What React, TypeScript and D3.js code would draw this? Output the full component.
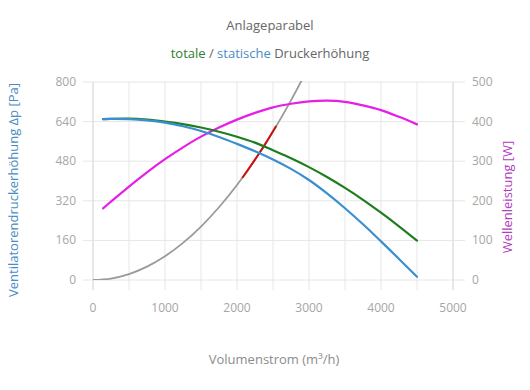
import React from "react";
import * as d3 from "d3";

const flowQ = [140, 250, 500, 750, 1000, 1250, 1500, 1750, 2000, 2250, 2500, 2750, 3000, 3250, 3500, 3750, 4000, 4250, 4500];
const staticP = [650, 651, 650, 645, 636, 621, 602, 578, 550, 520, 487, 449, 404, 350, 290, 225, 156, 85, 13];
const totalP = [650, 651, 652, 648, 640, 630, 616, 599, 579, 555, 524, 492, 456, 416, 372, 324, 272, 217, 159];
const powerW = [181, 198, 236, 272, 305, 335, 362, 385, 405, 422, 436, 445, 451, 453, 450, 441, 429, 412, 393];

const parabQ = [0, 250, 500, 750, 1000, 1250, 1500, 1750, 2000, 2250, 2500, 2750, 2900];
const parabP = [0, 6, 24, 54, 96, 150, 216, 294, 384, 486, 600, 726, 808];

const redQ = [2080, 2200, 2300, 2400, 2540];
const redP = [415, 465, 508, 553, 620];

const xTicks = [0, 500, 1000, 1500, 2000, 2500, 3000, 3500, 4000, 4500, 5000];
const xLabels = [0, 1000, 2000, 3000, 4000, 5000];
const leftTicks = [0, 160, 320, 480, 640, 800];
const rightTicks = [0, 100, 200, 300, 400, 500];

const FONT = "'Open Sans', 'Noto Sans', sans-serif";

export default function App() {
  const W = 530, H = 390;
  const left = 93, right = 453, top = 82, bottom = 280;
  const x = d3.scaleLinear().domain([0, 5000]).range([left, right]);
  const yL = d3.scaleLinear().domain([0, 800]).range([bottom, top]);
  const yR = d3.scaleLinear().domain([0, 500]).range([bottom, top]);

  const curve = d3.curveCatmullRom.alpha(0.5);
  const lineL = (qs: number[], ps: number[]) =>
    d3.line<number>().x((_, i) => x(qs[i])).y((d) => yL(d)).curve(curve)(ps) || "";
  const lineR = (qs: number[], ps: number[]) =>
    d3.line<number>().x((_, i) => x(qs[i])).y((d) => yR(d)).curve(curve)(ps) || "";

  const grid = "#e6e6e6";
  const tickCol = "#a6a6a6";

  return (
    <svg width={W} height={H} style={{ position: "absolute", left: 0, top: 0, fontFamily: FONT }}>
      <rect width={W} height={H} fill="#fff" />
      <defs>
        <clipPath id="plot">
          <rect x={left} y={top - 1} width={right - left} height={bottom - top + 1} />
        </clipPath>
      </defs>
      <text x={270} y={30} textAnchor="middle" fontSize={13} fill="#666">Anlageparabel</text>
      <text x={270} y={58} textAnchor="middle" fontSize={13} fill="#666">
        <tspan fill="#2f7d2f">totale</tspan>
        <tspan> / </tspan>
        <tspan fill="#4a8cc4">statische</tspan>
        <tspan> Druckerhöhung</tspan>
      </text>

      {xTicks.map((t) => (
        <line key={"vx" + t} x1={x(t)} x2={x(t)} y1={top} y2={bottom + 10} stroke={grid} strokeWidth={1} />
      ))}
      {leftTicks.map((t) => (
        <line key={"hy" + t} x1={left - 10} x2={right + 12} y1={yL(t)} y2={yL(t)} stroke={grid} strokeWidth={1} />
      ))}
      <line x1={left} x2={left} y1={top} y2={bottom + 10} stroke="#dcdcdc" />
      <line x1={right} x2={right} y1={top} y2={bottom + 10} stroke="#dcdcdc" />

      {leftTicks.map((t) => (
        <text key={"ly" + t} x={76} y={yL(t) + 4} textAnchor="end" fontSize={12} fill={tickCol}>{t}</text>
      ))}
      {rightTicks.map((t) => (
        <text key={"ry" + t} x={472} y={yR(t) + 4} textAnchor="start" fontSize={12} fill={tickCol}>{t}</text>
      ))}
      {xLabels.map((t) => (
        <text key={"lx" + t} x={x(t)} y={312} textAnchor="middle" fontSize={12} fill={tickCol}>{t}</text>
      ))}

      <text x={274} y={364} textAnchor="middle" fontSize={13} fill="#8c8c8c">Volumenstrom (m³/h)</text>
      <text transform="translate(18,190) rotate(-90)" textAnchor="middle" fontSize={13} fill="#4a8cc4">
        Ventilatorendruckerhöhung Δp [Pa]
      </text>
      <text transform="translate(512,197) rotate(-90)" textAnchor="middle" fontSize={13} fill="#b03cc0">
        Wellenleistung [W]
      </text>

      <g clipPath="url(#plot)" fill="none" strokeLinecap="round" strokeLinejoin="round">
        <path d={lineL(parabQ, parabP)} stroke="#9a9a9a" strokeWidth={1.8} />
        <path d={lineL(redQ, redP)} stroke="#cc1111" strokeWidth={2} />
        <path d={lineR(flowQ, powerW)} stroke="#e61ee6" strokeWidth={2.2} />
        <path d={lineL(flowQ, totalP)} stroke="#1e7d1e" strokeWidth={2.2} />
        <path d={lineL(flowQ, staticP)} stroke="#3a8fd0" strokeWidth={2.2} />
      </g>
    </svg>
  );
}
